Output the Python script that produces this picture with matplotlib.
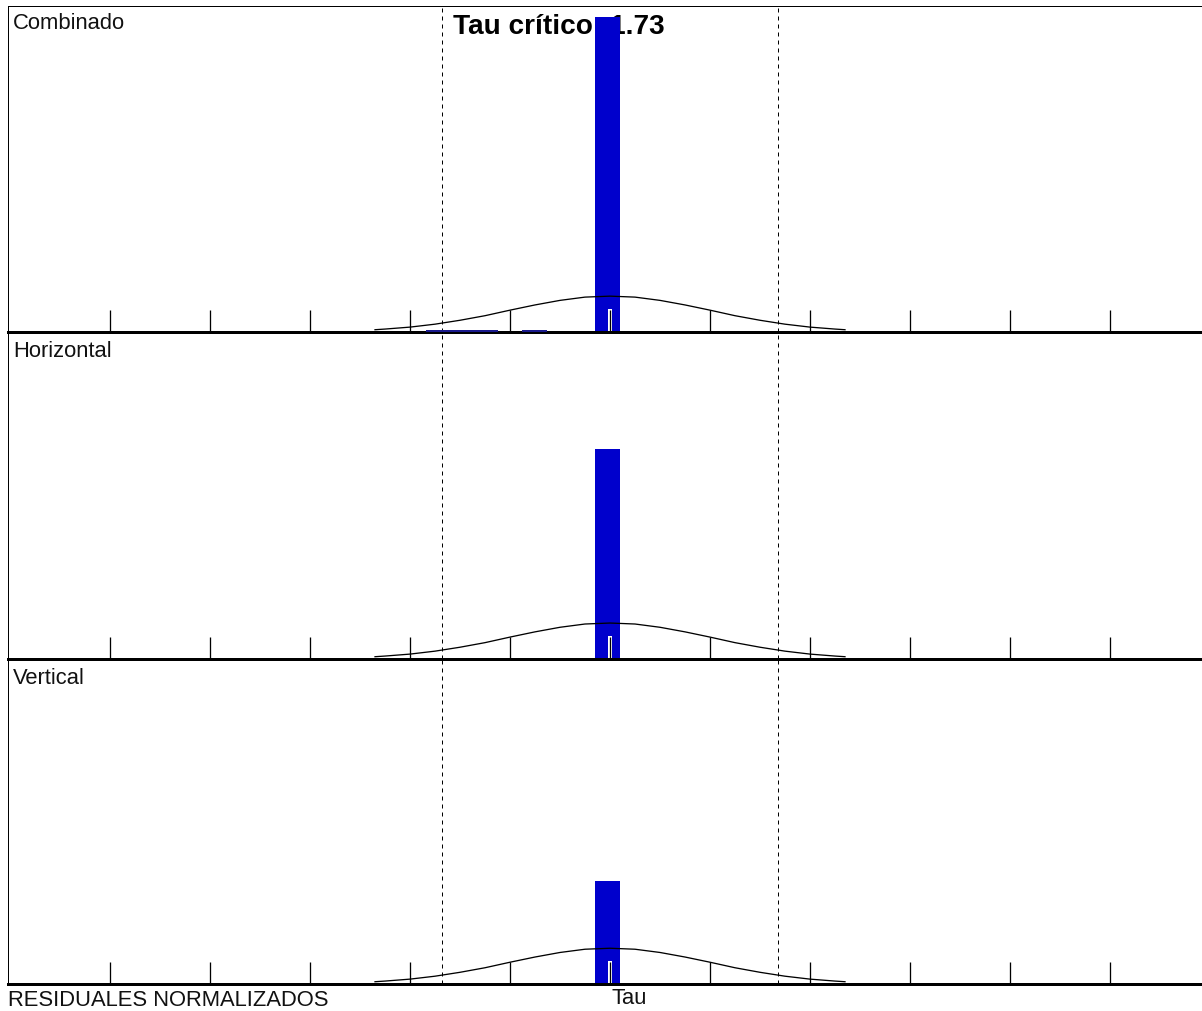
import matplotlib
matplotlib.use("Agg")
import matplotlib.pyplot as plt
import matplotlib.transforms as mtransforms

# ---------------- data ----------------
panel_names = ["Combinado", "Horizontal", "Vertical"]

# histogram bins (left edge, width) in units of tau
bin_left = [-1.845, -0.877, -0.15]
bin_width = [0.72, 0.25, 0.25]

# bar heights, percent of panel height
combinado_counts = [0.6, 0.6, 96.6]
horizontal_counts = [0.0, 0.0, 64.2]
vertical_counts = [0.0, 0.0, 31.7]

# reference normal curve, as read (same in the three panels)
curve_x = [-2.35, -2.25, -2.0, -1.75, -1.5, -1.25, -1.0, -0.75, -0.5, -0.25, 0.0,
           0.25, 0.5, 0.75, 1.0, 1.25, 1.5, 1.75, 2.0, 2.25, 2.35]
curve_y = [0.7, 0.9, 1.5, 2.4, 3.6, 5.0, 6.7, 8.3, 9.7, 10.7, 11.0,
           10.7, 9.7, 8.3, 6.7, 5.0, 3.6, 2.4, 1.5, 0.9, 0.7]

tick_values = [-5, -4, -3, -2, -1, 0, 1, 2, 3, 4, 5]
tau_critico = 1.73
crit_line = 1.68   # where the dashed limits sit on the tau scale

x_lim = (-6.02, 5.92)

BLUE = "#0000CC"
SMALL_BLUE = "#1a1a8c"
FONT = "Liberation Sans"

W, H = 1202, 1012
fig = plt.figure(figsize=(W / 100, H / 100), dpi=100)
fig.patch.set_facecolor("white")

# panel extents in pixels from the top (top, bottom)
panel_px = [(7, 333), (333, 660), (660, 985)]
label_top_px = [13, 341, 668]
all_counts = [combinado_counts, horizontal_counts, vertical_counts]

px = 72.0 / 100  # points per pixel

for i, name in enumerate(panel_names):
    top, bottom = panel_px[i]
    ax = fig.add_axes([8 / W, (H - bottom) / H, 1 - 8 / W, (bottom - top) / H])
    ax.set_xlim(*x_lim)
    ax.set_ylim(0, 100)
    ax.set_facecolor("none")
    ax.set_axisbelow(False)

    ax.spines["right"].set_visible(False)
    ax.spines["top"].set_visible(i == 0)
    ax.spines["top"].set_linewidth(1 * px)
    ax.spines["left"].set_linewidth(1 * px)
    ax.spines["bottom"].set_linewidth(3 * px)

    ax.set_xticks(tick_values)
    ax.set_xticklabels([])
    ax.set_yticks([])
    ax.tick_params(axis="x", direction="in", length=22 * px, width=1.3 * px,
                   color="black")

    counts = all_counts[i]
    colors = [SMALL_BLUE, SMALL_BLUE, BLUE]
    for left, w, c, col in zip(bin_left, bin_width, counts, colors):
        if c <= 0:
            continue
        ax.bar(left, c, width=w, align="edge", color=col, linewidth=0,
               zorder=3 if c < 2 else 1)

    # white gap round the centre tick inside the bar
    ax.plot([0, 0], [0, 23 / (bottom - top) * 100], color="white",
            lw=4 * px, solid_capstyle="butt", zorder=2)

    ax.plot(curve_x, curve_y, color="black", lw=1.3 * px, zorder=3)

    for xv in (-crit_line, crit_line):
        ax.axvline(xv, color="black", lw=1 * px, linestyle=(0, (4, 4)), zorder=2)

    trans = mtransforms.offset_copy(ax.transAxes, fig=fig, x=0,
                                    y=-(label_top_px[i] - top), units="dots")
    ax.text(5 / 1194, 1.0, name, transform=trans, ha="left", va="top",
            fontsize=22 * px, family=FONT, color="#111111", zorder=1)

    if i == 0:
        ax.text((453 - 8) / 1194, (333 - 27) / 326, f"Tau crítico: {tau_critico}",
                transform=ax.transAxes, ha="left", va="center",
                fontsize=28 * px, fontweight="bold", family=FONT,
                color="black", zorder=0.5)

fig.text(8 / W, (H - 990) / H, "RESIDUALES NORMALIZADOS", ha="left", va="top",
         fontsize=22 * px, family=FONT, color="#111111")
fig.text(611 / W, (H - 988) / H, "Tau", ha="left", va="top",
         fontsize=22 * px, family=FONT, color="#111111")

fig.savefig("out.png", dpi=100, facecolor="white")
